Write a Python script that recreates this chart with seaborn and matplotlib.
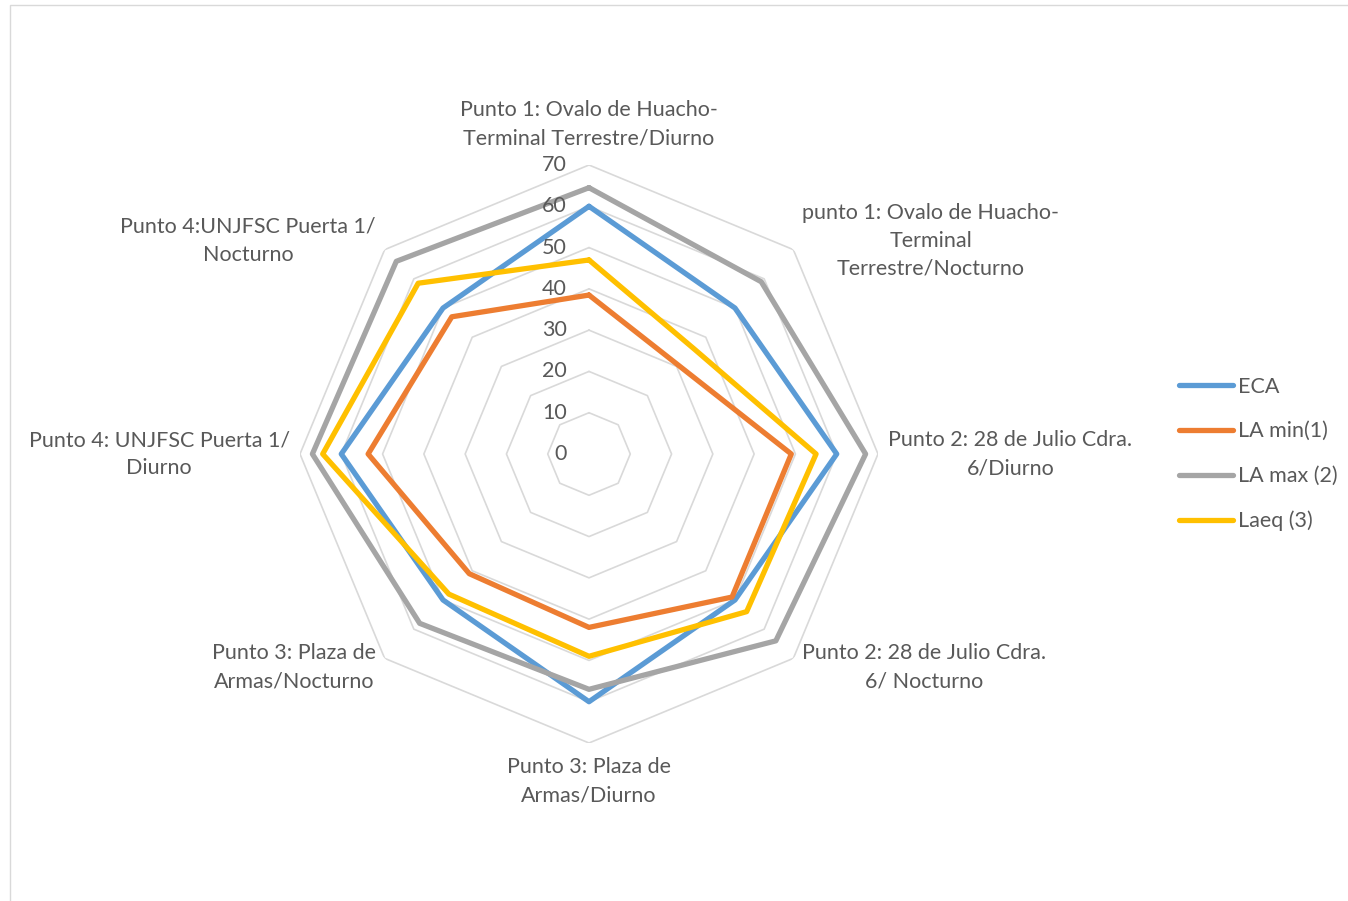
import numpy as np
import pandas as pd
import matplotlib
matplotlib.use("Agg")
import matplotlib.pyplot as plt
import matplotlib.transforms as mtransforms
from matplotlib.patches import Rectangle
import seaborn as sns

# Data
categories = [
    "Punto 1: Ovalo de Huacho-\nTerminal Terrestre/Diurno",
    "punto 1: Ovalo de Huacho-\nTerminal\nTerrestre/Nocturno",
    "Punto 2: 28 de Julio Cdra.\n6/Diurno",
    "Punto 2: 28 de Julio Cdra.\n6/ Nocturno",
    "Punto 3: Plaza de\nArmas/Diurno",
    "Punto 3: Plaza de\nArmas/Nocturno",
    "Punto 4: UNJFSC Puerta 1/\nDiurno",
    "Punto 4:UNJFSC Puerta 1/\nNocturno",
]
series_names = ["ECA", "LA min(1)", "LA max (2)", "Laeq (3)"]
eca = [60, 50, 60, 50, 60, 50, 60, 50]
la_min = [38.5, 30.5, 49, 49, 42, 41, 53.5, 47]
la_max = [64.5, 59, 67, 64, 57, 58, 67, 66]
laeq = [47, 36, 55, 54, 49, 48, 64.5, 58.5]
r_ticks = [0, 10, 20, 30, 40, 50, 60, 70]

colors = ["#5B9BD5", "#ED7D31", "#A5A5A5", "#FFC000"]
text_color = "#595959"
fs = 15.5

sns.set_style("white")
plt.rcParams['font.family'] = ['Lato', 'DejaVu Sans']

n = len(categories)
angles = np.linspace(0, 2 * np.pi, n, endpoint=False)
angles_closed = np.append(angles, 2 * np.pi)

rows = []
for name, vals in zip(series_names, [eca, la_min, la_max, laeq]):
    for a, v in zip(angles_closed, list(vals) + [vals[0]]):
        rows.append({"theta": a, "value": v, "serie": name})
df = pd.DataFrame(rows)

fig = plt.figure(figsize=(13.48, 9.01), dpi=100)
cx, cy, rad = 589 / 1348, 1 - 454 / 901, 289
ax = fig.add_axes([cx - rad / 1348, cy - rad / 901, 2 * rad / 1348, 2 * rad / 901],
                  projection="polar")
ax.set_theta_offset(np.pi / 2)
ax.set_theta_direction(-1)
ax.set_ylim(0, 70)
ax.grid(False)
ax.spines["polar"].set_visible(False)
ax.set_xticks([])
ax.set_yticks([])

# octagon gridlines
for r in r_ticks[1:]:
    ax.plot(angles_closed, [r] * (n + 1), color="#D9D9D9", lw=1.2, zorder=1)

sns.lineplot(data=df, x="theta", y="value", hue="serie", palette=colors,
             sort=False, estimator=None, linewidth=3.8, ax=ax, zorder=3)
ax.set_xlabel("")
ax.set_ylabel("")

# radial tick labels
offs = mtransforms.offset_copy(ax.transData, fig=fig, x=-22, y=0, units="dots")
for r in r_ticks:
    ax.text(0, r, str(r), transform=offs, ha="right", va="center",
            fontsize=fs, color=text_color)

# category labels
placements = [
    ("center", "bottom", 74),
    ("left", "center", 73),
    ("left", "center", 72.5),
    ("left", "center", 73),
    ("center", "top", 73.5),
    ("right", "center", 73),
    ("right", "center", 72.5),
    ("right", "center", 73),
]
for a, lab, (ha, va, r) in zip(angles, categories, placements):
    ax.text(a, r, lab, ha=ha, va=va, multialignment="center",
            fontsize=fs, color=text_color, linespacing=1.5)

sns.move_legend(ax, "center left", bbox_to_anchor=(1160 / 1348, cy),
                bbox_transform=fig.transFigure, frameon=False, title=None,
                fontsize=fs, handlelength=2.5, handletextpad=0.2,
                labelspacing=1.15)
for t in ax.get_legend().get_texts():
    t.set_color(text_color)
for h in ax.get_legend().get_lines():
    h.set_linewidth(3.8)

fig.patches.append(Rectangle((10 / 1348, -0.01), 1.0, 1 - 5 / 901 + 0.01,
                             transform=fig.transFigure, fill=False,
                             edgecolor="#D9D9D9", lw=1))

fig.savefig("out.png", dpi=100)
